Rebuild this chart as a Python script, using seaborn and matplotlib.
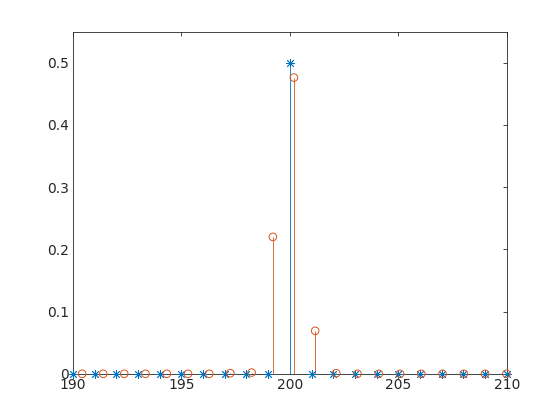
import matplotlib
matplotlib.use("Agg")
import matplotlib.pyplot as plt
import numpy as np
import pandas as pd
import seaborn as sns

# integer samples (blue, asterisks)
x_int = list(range(190, 211))
y_int = [0, 0, 0, 0, 0, 0, 0, 0, 0, 0, 0.5, 0, 0, 0, 0, 0, 0, 0, 0, 0, 0]

# shifted samples (orange, circles)
x_shift = [190.43, 191.40, 192.37, 193.35, 194.33, 195.31, 196.29, 197.26, 198.24,
           199.22, 200.19, 201.17, 202.14, 203.12, 204.10, 205.08, 206.06, 207.04,
           208.02, 209.00, 209.98]
y_shift = [0, 0, 0, 0, 0, 0, 0, 0.001, 0.002,
           0.22, 0.476, 0.069, 0.001, 0, 0, 0, 0, 0,
           0, 0, 0]

BLUE = "#0072BD"
ORANGE = "#D95319"
INK = "#262626"

sns.set_theme(style="white")
plt.rcParams["font.family"] = ["DejaVu Sans"]

fig = plt.figure(figsize=(5.6, 4.2), dpi=100)
ax = fig.add_axes([0.13, 0.11, 0.775, 0.815])

df_int = pd.DataFrame({"x": x_int, "y": y_int})
df_shift = pd.DataFrame({"x": x_shift, "y": y_shift})

# stems
ax.vlines(df_int["x"], 0, df_int["y"], color=BLUE, lw=0.6, zorder=2)
ax.vlines(df_shift["x"], 0, df_shift["y"], color=ORANGE, lw=0.6, zorder=2)
ax.axhline(0, color="black", lw=0.6, zorder=1)

# markers
sns.scatterplot(data=df_int, x="x", y="y", ax=ax, marker=(8, 2, 0), s=34,
                color=BLUE, linewidth=0.6, clip_on=False, zorder=3)
sns.scatterplot(data=df_shift, x="x", y="y", ax=ax, marker="o", s=30,
                facecolor="none", edgecolor=ORANGE, linewidth=0.7,
                clip_on=False, zorder=3)

ax.set_xlim(190, 210)
ax.set_ylim(0, 0.55)
ax.set_xticks([190, 195, 200, 205, 210])
ax.set_yticks([0, 0.1, 0.2, 0.3, 0.4, 0.5])
ax.set_yticklabels(["0", "0.1", "0.2", "0.3", "0.4", "0.5"])
ax.set_xlabel("")
ax.set_ylabel("")

for s in ax.spines.values():
    s.set_visible(True)
    s.set_color(INK)
    s.set_linewidth(0.6)
ax.tick_params(direction="in", length=3, width=0.6, colors=INK, labelsize=10,
               top=True, right=True, pad=3)

fig.savefig("out.png", dpi=100)
